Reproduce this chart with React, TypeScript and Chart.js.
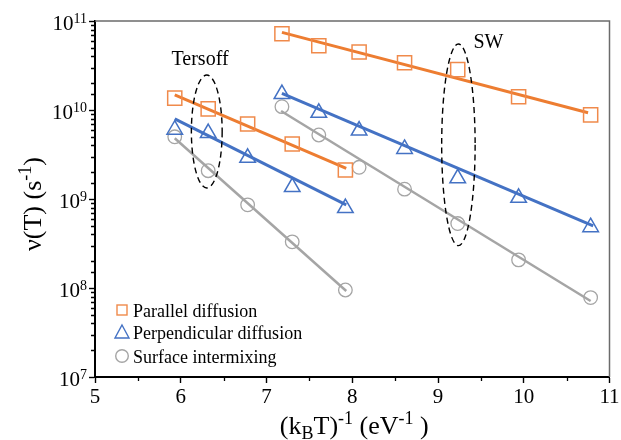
import React, { useEffect, useRef } from 'react';
import { Chart, registerables } from 'chart.js';

Chart.register(...registerables);

const SERIF = '"Liberation Serif", "Times New Roman", Times, serif';

// ---- data (x = (kBT)^-1 in eV^-1, y = rate in s^-1) ----
const xTersoff = [5.93, 6.32, 6.78, 7.3, 7.92];
const xSW = [7.18, 7.61, 8.08, 8.61, 9.23, 9.94, 10.78];

const parallelTersoff = [1.36e10, 1.03e10, 6.96e9, 4.15e9, 2.12e9];
const perpTersoff = [6.0e9, 5.5e9, 2.9e9, 1.36e9, 7.9e8];
const surfTersoff = [5.0e9, 2.08e9, 8.6e8, 3.3e8, 9.5e7];

const parallelSW = [7.2e10, 5.27e10, 4.49e10, 3.4e10, 2.84e10, 1.41e10, 8.8e9];
const perpSW = [1.51e10, 9.3e9, 5.87e9, 3.65e9, 1.71e9, 1.03e9, 4.82e8];
const surfSW = [1.09e10, 5.24e9, 2.27e9, 1.29e9, 5.3e8, 2.07e8, 7.8e7];

// fitted lines (end points)
const fitParallelTersoffX = [5.93, 7.93];
const fitParallelTersoffY = [1.476e10, 2.21e9];
const fitPerpTersoffX = [5.93, 7.93];
const fitPerpTersoffY = [7.93e9, 8.57e8];
const fitSurfTersoffX = [5.93, 7.93];
const fitSurfTersoffY = [4.81e9, 9.25e7];
const fitParallelSWX = [7.18, 10.75];
const fitParallelSWY = [7.46e10, 9.33e9];
const fitPerpSWX = [7.18, 10.81];
const fitPerpSWY = [1.54e10, 4.98e8];
const fitSurfSWX = [7.17, 10.78];
const fitSurfSWY = [9.75e9, 7.14e7];

// dashed ellipses: [xMin, xMax, yMin, yMax]
const ellipseTersoff = [6.124, 6.483, 1.33e9, 2.47e10];
const ellipseSW = [9.043, 9.433, 2.99e8, 5.52e10];

// annotation labels: [text, x, y]
const annotations: [string, number, number][] = [
  ['Tersoff', 5.892, 3.2e10],
  ['SW', 9.413, 4.93e10],
];

const xTickValues = [5, 6, 7, 8, 9, 10, 11];
const yMajorExps = [7, 8, 9, 10, 11];

const legendLabels = ['Parallel diffusion', 'Perpendicular diffusion', 'Surface intermixing'];

const ORANGE = '#ED7D31';
const ORANGE_MK = '#F08A4B';
const BLUE = '#4472C4';
const GREY = '#A5A5A5';

const zip = (xs: number[], ys: number[]) => xs.map((x, i) => ({ x, y: ys[i] }));

const isPow10 = (v: number) => {
  const l = Math.log10(v);
  return Math.abs(l - Math.round(l)) < 1e-9;
};

type Seg = { t: string; size: number; dy?: number };

function drawSegs(ctx: CanvasRenderingContext2D, segs: Seg[], x: number, y: number, align: 'center' | 'left') {
  let total = 0;
  const widths = segs.map((s) => {
    ctx.font = `${s.size}px ${SERIF}`;
    const w = ctx.measureText(s.t).width;
    total += w;
    return w;
  });
  let cx = align === 'center' ? x - total / 2 : x;
  ctx.textAlign = 'left';
  ctx.textBaseline = 'alphabetic';
  segs.forEach((s, i) => {
    ctx.font = `${s.size}px ${SERIF}`;
    ctx.fillText(s.t, cx, y + (s.dy || 0));
    cx += widths[i];
  });
}

const decorPlugin = {
  id: 'decor',
  afterDatasetsDraw(chart: any) {
    const ctx: CanvasRenderingContext2D = chart.ctx;
    const xs = chart.scales.x;
    const ys = chart.scales.y;
    ctx.save();
    ctx.strokeStyle = '#000';
    ctx.lineWidth = 1.4;
    ctx.setLineDash([6, 4]);
    [ellipseTersoff, ellipseSW].forEach((e) => {
      const x1 = xs.getPixelForValue(e[0]);
      const x2 = xs.getPixelForValue(e[1]);
      const y1 = ys.getPixelForValue(e[3]);
      const y2 = ys.getPixelForValue(e[2]);
      ctx.beginPath();
      ctx.ellipse((x1 + x2) / 2, (y1 + y2) / 2, (x2 - x1) / 2, (y2 - y1) / 2, 0, 0, Math.PI * 2);
      ctx.stroke();
    });
    ctx.setLineDash([]);
    ctx.fillStyle = '#000';
    ctx.font = `20px ${SERIF}`;
    ctx.textAlign = 'left';
    ctx.textBaseline = 'alphabetic';
    annotations.forEach(([t, x, y]) => {
      ctx.fillText(t, xs.getPixelForValue(x), ys.getPixelForValue(y));
    });
    ctx.restore();
  },
  afterDraw(chart: any) {
    const ctx: CanvasRenderingContext2D = chart.ctx;
    const xs = chart.scales.x;
    const ys = chart.scales.y;
    const area = chart.chartArea;
    ctx.save();
    // top & right frame
    ctx.strokeStyle = '#6b6b6b';
    ctx.lineWidth = 1.5;
    ctx.beginPath();
    ctx.moveTo(area.left, area.top);
    ctx.lineTo(area.right, area.top);
    ctx.lineTo(area.right, area.bottom);
    ctx.stroke();
    // minor ticks
    ctx.strokeStyle = '#000';
    ctx.lineWidth = 1.3;
    ctx.beginPath();
    xs.ticks.forEach((t: any) => {
      if (Math.abs(t.value - Math.round(t.value)) > 1e-6) {
        const px = Math.round(xs.getPixelForValue(t.value)) + 0.5;
        ctx.moveTo(px, area.bottom);
        ctx.lineTo(px, area.bottom + 4);
      }
    });
    ys.ticks.forEach((t: any) => {
      if (!isPow10(t.value)) {
        const py = Math.round(ys.getPixelForValue(t.value)) + 0.5;
        ctx.moveTo(area.left - 4, py);
        ctx.lineTo(area.left, py);
      }
    });
    ctx.stroke();
    // x tick labels
    ctx.fillStyle = '#000';
    ctx.font = `21px ${SERIF}`;
    ctx.textAlign = 'center';
    ctx.textBaseline = 'alphabetic';
    xTickValues.forEach((v) => {
      ctx.fillText(String(v), xs.getPixelForValue(v), area.bottom + 25.5);
    });
    // y tick labels 10^n
    yMajorExps.forEach((e) => {
      const py = ys.getPixelForValue(Math.pow(10, e));
      const right = area.left - 8;
      ctx.font = `14px ${SERIF}`;
      const ew = ctx.measureText(String(e)).width;
      ctx.textAlign = 'right';
      ctx.textBaseline = 'alphabetic';
      ctx.fillText(String(e), right, py + 2);
      ctx.font = `21px ${SERIF}`;
      ctx.fillText('10', right - ew, py + 8.5);
    });
    // x title
    drawSegs(
      ctx,
      [
        { t: '(k', size: 26 },
        { t: 'B', size: 18, dy: 5 },
        { t: 'T)', size: 26 },
        { t: '-1', size: 18, dy: -10 },
        { t: ' (eV', size: 26 },
        { t: '-1', size: 18, dy: -10 },
        { t: ' )', size: 26 },
      ],
      (area.left + area.right) / 2 + 2,
      434,
      'center'
    );
    // y title
    ctx.save();
    ctx.translate(41, (area.top + area.bottom) / 2 + 5);
    ctx.rotate(-Math.PI / 2);
    drawSegs(
      ctx,
      [
        { t: 'ν(T) (s', size: 26 },
        { t: '-1', size: 18, dy: -10 },
        { t: ')', size: 26 },
      ],
      0,
      0,
      'center'
    );
    ctx.restore();
    // legend
    const lx = area.left + 27;
    const rows = [310, 332.5, 356];
    ctx.lineWidth = 1.4;
    ctx.strokeStyle = ORANGE_MK;
    ctx.strokeRect(lx - 5, rows[0] - 5, 10, 10);
    ctx.strokeStyle = BLUE;
    ctx.beginPath();
    ctx.moveTo(lx, rows[1] - 7.5);
    ctx.lineTo(lx + 7, rows[1] + 5.5);
    ctx.lineTo(lx - 7, rows[1] + 5.5);
    ctx.closePath();
    ctx.stroke();
    ctx.strokeStyle = GREY;
    ctx.beginPath();
    ctx.arc(lx, rows[2], 6.3, 0, Math.PI * 2);
    ctx.stroke();
    ctx.fillStyle = '#000';
    ctx.font = `18px ${SERIF}`;
    ctx.textAlign = 'left';
    ctx.textBaseline = 'alphabetic';
    legendLabels.forEach((l, i) => {
      ctx.fillText(l, lx + 11, rows[i] + 6.5);
    });
    ctx.restore();
  },
};

export default function App() {
  const ref = useRef<HTMLCanvasElement | null>(null);
  useEffect(() => {
    if (!ref.current) return;
    const markerSet = (data: any[], style: string, color: string, radius: number, bw: number) => ({
      data,
      pointStyle: style,
      pointRadius: radius,
      pointHoverRadius: radius,
      pointBorderColor: color,
      pointBackgroundColor: 'rgba(0,0,0,0)',
      pointBorderWidth: bw,
      showLine: false,
      order: 1,
    });
    const lineSet = (data: any[], color: string, width: number) => ({
      data,
      showLine: true,
      borderColor: color,
      borderWidth: width,
      pointRadius: 0,
      pointHoverRadius: 0,
      fill: false,
      order: 2,
    });
    const chart = new Chart(ref.current, {
      type: 'scatter',
      data: {
        datasets: [
          lineSet(zip(fitParallelTersoffX, fitParallelTersoffY), ORANGE, 3),
          lineSet(zip(fitPerpTersoffX, fitPerpTersoffY), BLUE, 3),
          lineSet(zip(fitSurfTersoffX, fitSurfTersoffY), GREY, 2.5),
          lineSet(zip(fitParallelSWX, fitParallelSWY), ORANGE, 3),
          lineSet(zip(fitPerpSWX, fitPerpSWY), BLUE, 3),
          lineSet(zip(fitSurfSWX, fitSurfSWY), GREY, 2.5),
          markerSet(zip(xTersoff, parallelTersoff), 'rect', ORANGE_MK, 10, 1.5),
          markerSet(zip(xTersoff, perpTersoff), 'triangle', BLUE, 9, 1.5),
          markerSet(zip(xTersoff, surfTersoff), 'circle', GREY, 6.8, 1.3),
          markerSet(zip(xSW, parallelSW), 'rect', ORANGE_MK, 10, 1.5),
          markerSet(zip(xSW, perpSW), 'triangle', BLUE, 9, 1.5),
          markerSet(zip(xSW, surfSW), 'circle', GREY, 6.8, 1.3),
        ] as any,
      },
      options: {
        animation: false,
        responsive: false,
        devicePixelRatio: 1,
        layout: { padding: { top: 21, right: 8, left: 0, bottom: 0 } },
        plugins: { legend: { display: false }, tooltip: { enabled: false } },
        events: [],
        scales: {
          x: {
            type: 'linear',
            min: 5,
            max: 11,
            afterFit: (s: any) => {
              s.height = 63;
              s.paddingLeft = 0;
              s.paddingRight = 0;
            },
            ticks: {
              stepSize: 0.5,
              autoSkip: false,
              maxRotation: 0,
              color: '#000',
              font: { family: SERIF, size: 21 },
              callback: () => '',
            },
            grid: {
              drawOnChartArea: false,
              drawTicks: true,
              tickLength: 6,
              tickWidth: 1.4,
              tickColor: (c: any) =>
                c.tick && Math.abs(c.tick.value - Math.round(c.tick.value)) < 1e-6 ? '#000' : 'rgba(0,0,0,0)',
            },
            border: { display: true, color: '#000', width: 2 },
          },
          y: {
            type: 'logarithmic',
            min: 1e7,
            max: 1e11,
            afterFit: (s: any) => {
              s.width = 95;
              s.paddingTop = 0;
              s.paddingBottom = 0;
            },
            ticks: {
              autoSkip: false,
              color: '#000',
              font: { family: SERIF, size: 21 },
              callback: () => '',
            },
            grid: {
              drawOnChartArea: false,
              drawTicks: true,
              tickLength: 6,
              tickWidth: 1.4,
              tickColor: (c: any) => (c.tick && isPow10(c.tick.value) ? '#000' : 'rgba(0,0,0,0)'),
            },
            border: { display: true, color: '#000', width: 2 },
          },
        },
      } as any,
      plugins: [decorPlugin],
    });
    return () => chart.destroy();
  }, []);
  return (
    <div style={{ position: 'absolute', left: 0, top: 0, width: 621, height: 440 }}>
      <canvas ref={ref} width={621} height={440} style={{ display: 'block' }} />
    </div>
  );
}
